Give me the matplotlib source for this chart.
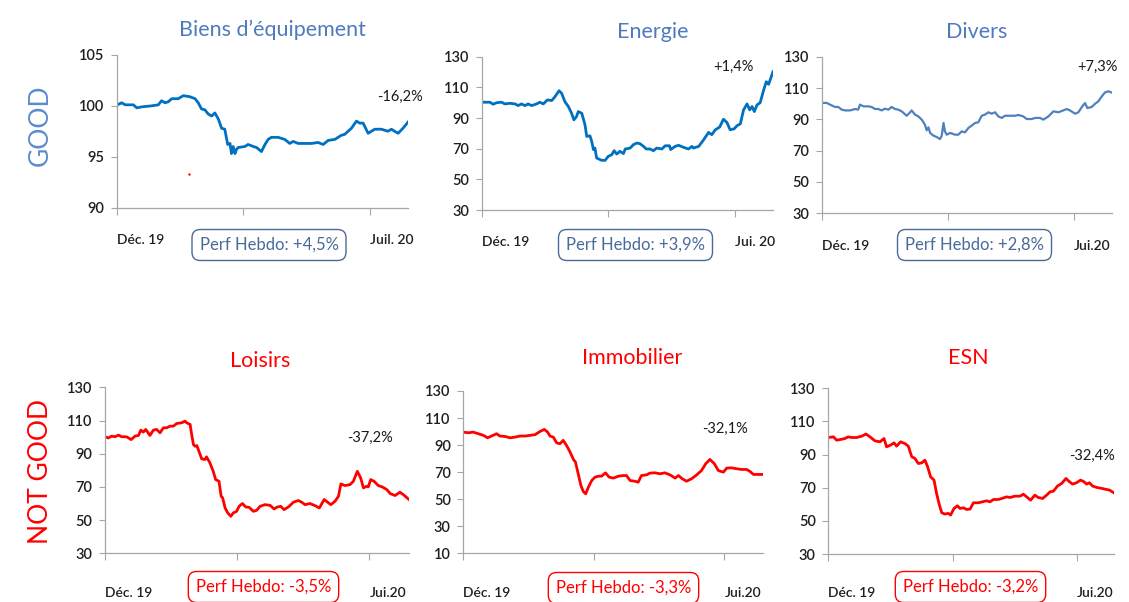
import matplotlib.pyplot as plt

plt.rcParams['font.family'] = ['Lato', 'DejaVu Sans']

# x = position along the period (0 = Déc. 19 start, 100 = last session)
biens_x = [0, 1.7, 2.9, 5.7, 6.9, 8.6, 12, 14.3, 15.4, 16.6, 17.7, 18.9, 21.1, 22.9, 25.1, 26.9,
           28, 29.1, 30.3, 31.4, 32.6, 33.7, 34.9, 36, 37.1, 38.1, 38.9, 39.4, 40, 40.6, 41.1, 41.7,
           44, 45.1, 46.9, 48, 49.7, 50.9, 52, 53.1, 55.4, 57.7, 59.4, 60.6, 62.3, 66.9, 69.1, 70.9,
           72.6, 74.9, 77.1, 78.3, 80.6, 82.3, 83.4, 84.6, 86.3, 88.6, 90.9, 93.1, 94.3, 95.4, 96.6,
           98.3, 100]
biens_y = [100.07, 100.3, 100.1, 100.1, 99.8, 99.9, 100, 100.1, 100.5, 100.3, 100.4, 100.7, 100.7,
           101.0, 100.9, 100.7, 100.3, 99.7, 99.6, 99.2, 99, 99.3, 98.7, 97.8, 97.7, 96.2, 96.3, 95.3,
           96, 95.3, 95.7, 95.9, 96, 96.2, 96, 95.9, 95.5, 96.2, 96.7, 96.9, 96.9, 96.7, 96.3, 96.5,
           96.3, 96.3, 96.4, 96.2, 96.6, 96.7, 97.1, 97.2, 97.8, 98.5, 98.3, 98.3, 97.3, 97.7, 97.7,
           97.5, 97.7, 97.5, 97.3, 97.8, 98.4]
stray_x = [24.8]
stray_y = [93.3]

energie_x = [0, 2.9, 4.0, 5.2, 6.9, 8.0, 9.7, 11.5, 12.6, 13.7, 14.9, 16.0, 17.2, 18.9, 20.0, 21.2,
             22.6, 24.1, 25.2, 26.6, 27.5, 28.6, 29.8, 30.9, 31.7, 32.6, 33.2, 34.4, 35.5, 36.1, 37.2,
             37.8, 38.4, 38.9, 39.5, 41.2, 42.4, 43.5, 44.7, 45.5, 46.4, 47.5, 48.7, 49.3, 51.0, 52.1,
             53.3, 54.4, 55.6, 56.5, 57.8, 59.0, 60.1, 61.9, 63.0, 64.5, 64.9, 66.4, 67.6, 69.3, 71.0,
             72.2, 72.7, 74.5, 76.2, 77.9, 79.0, 80.2, 81.7, 83.0, 84.2, 85.3, 86.7, 87.6, 88.8, 89.9,
             91.1, 92.0, 92.8, 93.6, 94.5, 95.6, 96.8, 97.7, 98.5, 99.4, 100]
energie_y = [100.3, 100.3, 99, 100, 100.3, 99.2, 99.6, 99.2, 98.1, 99.2, 98.1, 99.2, 98.1, 99.2, 100.3,
             99.2, 101.8, 101.4, 103.9, 107.8, 106.1, 100.7, 97.5, 93.1, 88.8, 91, 94.2, 93.1, 85.6,
             78, 78.4, 74.8, 69.4, 70.4, 63.9, 62.4, 62.4, 65, 66.1, 68.7, 66.5, 68.3, 66.8, 69.8, 70.4,
             72.6, 73.7, 73.2, 71.5, 69.8, 69.8, 68.7, 70.4, 69.8, 71.9, 71.9, 69.4, 71.5, 72.2, 70.9,
             69.8, 71.5, 70.4, 71.5, 75.8, 80.6, 79.1, 82.3, 84.1, 89.2, 87.1, 82.3, 83, 84.9, 86.2,
             95.3, 99.2, 95.3, 97.5, 94.2, 98.5, 100, 108.3, 113.7, 112, 116.9, 120.2]

divers_x = [0, 1.7, 2.9, 4.6, 5.7, 6.9, 8.0, 9.8, 11.5, 12.6, 13.2, 14.4, 16.1, 17.2, 18.4, 19.5, 20.7,
            21.8, 23.0, 24.1, 25.3, 26.4, 27.6, 29.3, 30.5, 31.0, 32.2, 33.3, 34.5, 35.6, 36.2, 36.8,
            37.4, 38.5, 39.7, 40.8, 41.4, 42.0, 42.5, 43.1, 44.3, 46.0, 47.1, 48.3, 49.4, 50.6, 51.7,
            52.9, 54.0, 55.2, 56.3, 57.5, 58.6, 59.8, 60.9, 62.1, 63.2, 64.9, 66.7, 67.8, 69.5, 70.7,
            72.4, 73.6, 75.3, 76.4, 78.2, 79.9, 81.6, 83.3, 84.5, 85.6, 87.4, 88.5, 89.7, 90.8, 91.6,
            93.1, 94.3, 95.4, 96.6, 97.7, 98.9, 99.8]
divers_y = [100.5, 100.5, 99.4, 97.9, 97.9, 96.2, 95.7, 95.7, 96.6, 96.2, 99.4, 98.3, 98.3, 97.9, 96.6,
            96.6, 95.7, 96.8, 96.2, 97.9, 96.6, 96.2, 95.1, 92.3, 94.5, 95.7, 93, 91.9, 89.8, 86.6, 83,
            84.9, 81.3, 79.6, 78.7, 77.4, 79.6, 87.7, 82.3, 80.2, 81.3, 80.2, 80.2, 82.3, 81.7, 84.5,
            86, 87.7, 88.1, 92.3, 93, 94.5, 93.6, 94.5, 91.9, 90.9, 92.3, 92.3, 92.3, 92.8, 91.9, 90.2,
            90.2, 90.9, 90.9, 89.8, 91.9, 95.1, 94.5, 95.7, 96.6, 95.7, 93.6, 94.5, 97.9, 100.4, 97.2,
            97.9, 100, 101.5, 104.7, 107.2, 107.9, 107.2]

loisirs_x = [0, 1.1, 2.2, 3.3, 4.4, 5.5, 7.1, 8.6, 9.9, 11.0, 11.8, 12.6, 13.4, 14.8, 15.9, 17.0, 18.1,
             19.2, 20.3, 21.4, 22.5, 23.6, 25.2, 26.3, 26.9, 28.0, 28.5, 29.1, 29.6, 30.2, 31.3, 31.8,
             32.9, 33.4, 34.5, 35.6, 36.4, 37.5, 38.2, 38.7, 39.5, 40.4, 41.4, 42.2, 43.3, 44.1, 45.2,
             46.3, 47.4, 48.8, 49.9, 51.0, 52.6, 54.3, 55.6, 56.7, 57.8, 58.9, 60.3, 62.0, 63.6, 64.7,
             65.8, 67.4, 69.1, 70.5, 72.1, 73.2, 74.3, 75.7, 76.8, 77.6, 78.9, 80.6, 81.7, 83.0, 84.1,
             85.0, 86.1, 86.6, 87.4, 88.5, 89.9, 91.2, 92.7, 93.8, 95.4, 97.0, 98.1, 100]
loisirs_y = [100.2, 99.5, 100.6, 100.2, 101.2, 100.2, 100.2, 98.5, 100.6, 101, 104.2, 103, 104.6, 101,
             104.2, 104.6, 102.6, 105.6, 105.6, 106.6, 106.6, 108.2, 108.6, 109.6, 108.6, 107.6, 101.6,
             95.5, 94.5, 94.9, 89.5, 86.9, 86.5, 88.1, 84.5, 79.4, 74.4, 73.4, 64.4, 63.4, 57.3, 54.3,
             52.3, 54.3, 55.3, 58.3, 60, 57.9, 57.7, 55.3, 55.9, 58.3, 59.3, 58.9, 56.7, 57.9, 58.3,
             56.3, 57.9, 60.8, 61.8, 60.8, 59.3, 60, 58.7, 57.3, 62.4, 60.8, 59.3, 61.4, 64.4, 71.8,
             70.8, 71.4, 73.4, 79.4, 75.4, 69.4, 70.4, 70, 74.4, 73.4, 70.8, 70, 68.4, 66, 64.8, 66.8,
             65.4, 62.4]

immo_x = [0, 1.7, 3.3, 5.0, 6.7, 8.1, 9.4, 11.1, 12.2, 13.9, 15.6, 17.2, 18.9, 20.6, 22.2, 23.9, 25.6,
          27.0, 28.1, 28.9, 30.0, 31.1, 32.2, 33.3, 34.4, 35.6, 36.7, 37.4, 38.3, 39.2, 40.0, 40.8,
          41.7, 42.8, 43.9, 45.0, 46.1, 47.4, 48.6, 50.0, 51.7, 53.3, 54.4, 55.6, 57.2, 58.3, 59.4,
          61.1, 62.2, 63.9, 65.6, 67.2, 68.9, 70.6, 71.7, 73.0, 74.4, 76.1, 77.8, 79.4, 80.8, 82.2,
          83.7, 85.0, 86.7, 87.8, 89.4, 91.1, 92.8, 94.4, 95.6, 96.7, 98.3, 100]
immo_y = [99.6, 99.1, 99.6, 98.4, 97.2, 95.4, 96.7, 98.4, 96.7, 96.4, 95.4, 95.9, 96.7, 96.7, 97.2,
          97.7, 100.1, 101.6, 99.6, 96.7, 95.9, 91.7, 91, 93.5, 89.8, 84.8, 79.4, 77.4, 68.8, 60.1,
          55.7, 54, 58.9, 63.8, 66.3, 67, 67, 69.5, 66.3, 65.6, 67, 67.5, 67.5, 63.8, 63.3, 62.6, 67.5,
          68, 69.3, 69.5, 68.8, 69.5, 68, 65.6, 67.5, 65.1, 63.3, 65.1, 68, 71.2, 76.2, 79.4, 76.2,
          71.2, 70, 73, 73.2, 72.5, 72, 72, 70.5, 68.3, 68.3, 68.3]

esn_x = [0, 1.8, 2.9, 4.3, 5.8, 7.0, 8.2, 9.9, 11.7, 13.2, 14.6, 16.3, 18.1, 19.5, 20.4, 21.8, 23.0,
         23.9, 25.3, 26.8, 28.0, 29.2, 30.3, 31.5, 32.7, 33.8, 34.7, 35.8, 37.0, 37.9, 38.9, 39.7,
         40.8, 42.0, 42.8, 44.0, 45.2, 46.1, 47.3, 48.4, 49.6, 50.8, 52.5, 54.0, 55.4, 56.6, 57.8,
         59.5, 60.7, 62.4, 63.6, 65.3, 67.1, 68.3, 69.4, 70.8, 72.3, 73.5, 75.0, 76.4, 77.6, 78.8,
         80.2, 81.7, 83.2, 84.4, 85.5, 86.9, 88.3, 89.5, 90.4, 91.4, 92.5, 93.9, 95.7, 97.2, 98.4, 100]
esn_y = [100.3, 100.7, 98.7, 99.1, 99.7, 100.7, 100.3, 100.3, 101.1, 102.4, 100.7, 98.3, 97.7, 99.7,
         94.7, 95.7, 97.1, 95.1, 97.7, 96.7, 95.1, 88.7, 87.7, 84.6, 85, 86.6, 83, 76.6, 74.6, 66.5,
         59.5, 54.9, 54.1, 54.5, 53.5, 57.5, 59.1, 57.5, 57.9, 56.9, 57.1, 60.9, 60.9, 61.5, 62.1,
         61.5, 62.9, 62.9, 63.5, 64.5, 64.1, 64.9, 64.9, 66.1, 64.5, 62.5, 65.5, 64.1, 63.5, 65.5,
         67.5, 67.9, 71, 72.6, 75.6, 73.6, 72.2, 73, 74.6, 73.6, 72.2, 73, 71, 70.2, 69.6, 69, 68.6,
         66.9]

titles = ['Biens d\u2019équipement', 'Energie', 'Divers', 'Loisirs', 'Immobilier', 'ESN']
perf_ytd = ['-16,2%', '+1,4%', '+7,3%', '-37,2%', '-32,1%', '-32,4%']
perf_hebdo = ['Perf Hebdo: +4,5%', 'Perf Hebdo: +3,9%', 'Perf Hebdo: +2,8%',
              'Perf Hebdo: -3,5%', 'Perf Hebdo: -3,3%', 'Perf Hebdo: -3,2%']
end_labels = ['Juil. 20', 'Jui. 20', 'Jui.20', 'Jui.20', 'Jui.20', 'Jui.20']
yranges = [(90, 105, 5), (30, 130, 20), (30, 130, 20), (30, 130, 20), (10, 130, 20), (30, 130, 20)]
series = [(biens_x, biens_y), (energie_x, energie_y), (divers_x, divers_y),
          (loisirs_x, loisirs_y), (immo_x, immo_y), (esn_x, esn_y)]

W, H = 1129, 602
BLUE_TXT = '#4F7BBE'
BOX_BLUE = '#4A6A9A'
RED = '#FF0000'

# layout in pixels: left, top, right, bottom of plot area
frames = [(116.7, 55, 408, 207.5), (481.5, 56.7, 773, 210), (821.7, 56.7, 1111.7, 213.3),
          (105, 387.3, 409, 553.3), (463.3, 391, 763.3, 553.3), (828.3, 388.3, 1114, 554)]
title_pos = [(272, 30), (653, 32), (977, 32), (260, 361), (632, 358), (968, 358)]
ytd_pos = [(400, 97), (733, 67), (1097, 67), (370, 438), (725, 429), (1092, 456)]
box_pos = [(269, 245), (635.5, 245), (974.5, 245), (263.5, 587), (623.5, 588), (970.5, 587)]
line_styles = [('#0070C0', 2.0), ('#0070C0', 2.0), ('#4F81BD', 1.6),
               (RED, 2.0), (RED, 2.0), (RED, 2.0)]


def fx(x):
    return x / W


def fy(y):
    return 1 - y / H


fig = plt.figure(figsize=(W / 100, H / 100), dpi=100)

for i, (xs, ys) in enumerate(series):
    l, t, r, b = frames[i]
    ax = fig.add_axes([fx(l), fy(b), (r - l) / W, (b - t) / H])
    color, lw = line_styles[i]
    ax.plot(xs, ys, color=color, lw=lw, solid_joinstyle='round')
    if i == 0:
        ax.scatter(stray_x, stray_y, s=3, color=RED, linewidths=0)
    lo, hi, st = yranges[i]
    ax.set_ylim(lo, hi)
    ax.set_yticks(list(range(lo, hi + 1, st)))
    ax.set_xlim(0, 100)
    ax.set_xticks([0, 43.5, 87])
    ax.set_xticklabels(['Déc. 19', '', end_labels[i]], ha='left')
    ax.tick_params(axis='x', length=5, width=0.8, color='#A6A6A6', pad=14 if i < 3 else 19,
                   labelsize=10, labelcolor='#1f1f1f')
    ax.tick_params(axis='y', length=4, width=0.8, color='#A6A6A6', pad=5,
                   labelsize=10.5, labelcolor='#1f1f1f')
    for lab in ax.get_xticklabels() + ax.get_yticklabels():
        lab.set_fontweight('semibold')
    for s in ['top', 'right']:
        ax.spines[s].set_visible(False)
    for s in ['left', 'bottom']:
        ax.spines[s].set_color('#A6A6A6')
        ax.spines[s].set_linewidth(0.9)
    ax.set_facecolor('none')

    tcolor = BLUE_TXT if i < 3 else RED
    bcolor = BOX_BLUE if i < 3 else RED
    fig.text(fx(title_pos[i][0]), fy(title_pos[i][1]), titles[i], color=tcolor,
             fontsize=15.5, ha='center', va='center')
    fig.text(fx(ytd_pos[i][0]), fy(ytd_pos[i][1]), perf_ytd[i], color='#1a1a1a',
             fontsize=10.5, ha='center', va='center')
    fig.text(fx(box_pos[i][0]), fy(box_pos[i][1]), perf_hebdo[i], color=bcolor,
             fontsize=12, ha='center', va='center',
             bbox=dict(boxstyle='round,pad=0.45,rounding_size=0.5', fc='white', ec=bcolor, lw=1.0))

fig.text(fx(40), fy(125), 'GOOD', color='#5B8BD0', fontsize=19, rotation=90,
         ha='center', va='center')
fig.text(fx(40), fy(471), 'NOT GOOD', color=RED, fontsize=19, rotation=90,
         ha='center', va='center')

fig.savefig('out.png', dpi=100)
